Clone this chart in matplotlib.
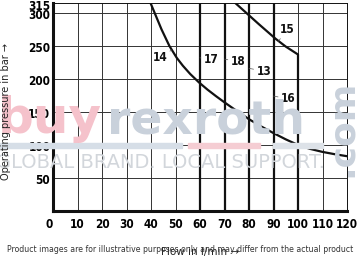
import numpy as np
import matplotlib.pyplot as plt
import matplotlib.transforms as mtransforms
from matplotlib.patches import Rectangle

# curve 14 (flow l/min, pressure bar)
flow_14 = [39.8, 41.6, 44.3, 47.5, 50.5, 53, 56, 59.5, 63, 66.5, 70, 75, 80,
           85, 90, 95, 100, 105, 110, 115, 120]
pres_14 = [315, 299, 275, 250, 232, 220, 207.5, 195, 184, 174, 164.5, 151.5, 139,
           128, 118, 108.5, 100, 94, 89.5, 86, 83]

# curve 15 ends at 100 l/min then drops vertically
flow_15 = [74.4, 79.2, 84, 90.8, 95, 100, 100]
pres_15 = [315, 299, 283, 261, 249, 237, 0]

# vertical limits (curves 17, 18, 13, 16)
vlines = [60, 70, 80, 90]

x_ticks = [0, 10, 20, 30, 40, 50, 60, 70, 80, 90, 100, 110, 120]
y_ticks = [50, 100, 150, 200, 250, 300, 315]

labels = ["14", "17", "18", "13", "15", "16"]
label_xy = [(43.6, 232), (64.5, 229), (75.5, 226), (86, 212), (95.6, 275), (96, 170)]
leader_to = [(48.5, 244), (60, 232), (70, 230), (80, 216), (92, 257), (90, 174)]

tick_kw = dict(fontsize=8.5, fontweight='bold', fontstretch='condensed')

fig = plt.figure(figsize=(3.57, 2.58), dpi=100)
ax = fig.add_axes([53 / 357, 1 - 211 / 258, 294 / 357, 208 / 258])
ax.patch.set_alpha(0)

# faint watermark behind the chart
wm_pink = '#f5c2cb'
wm_gray = '#c9d1db'
fig.text(-0.005, 1 - 133 / 258, "buy", fontsize=36, fontweight='bold',
         color=wm_pink, zorder=0, va='baseline')
fig.text(0.30, 1 - 133 / 258, "rexroth", fontsize=34, fontweight='bold',
         color=wm_gray, zorder=0, va='baseline')
fig.text(0.957, 1 - 128 / 258, ".com", fontsize=26, fontweight='bold',
         color=wm_gray, rotation=90, zorder=0, va='center', ha='center')
fig.text(-0.012, 1 - 163 / 258, "GLOBAL BRAND. LOCAL SUPPORT.", fontsize=14,
         color='#d2d6db', zorder=0, va='center')
fig.patches.append(Rectangle((0, 1 - 148 / 258), 182 / 357, 5 / 258, transform=fig.transFigure,
                             color='#d6dee7', zorder=0))
fig.patches.append(Rectangle((188 / 357, 1 - 148 / 258), 72 / 357, 5 / 258, transform=fig.transFigure,
                             color='#f5cdd3', zorder=0))
fig.patches.append(Rectangle((273 / 357, 1 - 148 / 258), 50 / 357, 5 / 258, transform=fig.transFigure,
                             color='#dde2e8', zorder=0))

# grid
for x in x_ticks[1:]:
    ax.axvline(x, color='#333333', lw=0.7, zorder=1)
for y in [50, 100, 150, 200, 250, 300]:
    ax.axhline(y, color='#333333', lw=0.7, zorder=1)

for x in vlines:
    ax.axvline(x, color='#111111', lw=1.6, zorder=2)

ax.plot(flow_14, pres_14, color='#111111', lw=1.6, zorder=3, solid_joinstyle='round')
ax.plot(flow_15, pres_15, color='#111111', lw=1.6, zorder=3, solid_joinstyle='round')

for lab, (tx, ty), (lx, ly) in zip(labels, label_xy, leader_to):
    ax.annotate(lab, xy=(lx, ly), xytext=(tx, ty), ha='center', va='center',
                color='#111111', arrowprops=dict(arrowstyle='-', color='#555555', lw=0.5,
                                                 shrinkA=4, shrinkB=0), zorder=4, **tick_kw)

ax.set_xlim(0, 120)
ax.set_ylim(0, 315)
ax.set_xticks(x_ticks)
ax.set_yticks(y_ticks)
ax.set_xticklabels([str(v) for v in x_ticks], **tick_kw)
ax.set_yticklabels([str(v) for v in y_ticks], **tick_kw)
ax.tick_params(length=0, pad=5)
ax.tick_params(axis='y', pad=2)
ax.get_xticklabels()[0].set_ha('right')
ylabels = ax.get_yticklabels()
ylabels[-1].set_transform(ylabels[-1].get_transform() +
                          mtransforms.ScaledTranslation(0, -2.5 / 100, fig.dpi_scale_trans))
for lbl in ylabels[:-1]:
    lbl.set_transform(lbl.get_transform() +
                      mtransforms.ScaledTranslation(0, -1.5 / 100, fig.dpi_scale_trans))

ax.spines['left'].set_linewidth(2.2)
ax.spines['bottom'].set_linewidth(2.2)
ax.spines['top'].set_linewidth(0.7)
ax.spines['right'].set_linewidth(0.7)
for s in ax.spines.values():
    s.set_color('#111111')

fig.text(6 / 357, 1 - 111 / 258, "Operating pressure in bar \u2192", rotation=90,
         fontsize=7, ha='center', va='center', color='#222222')
fig.text(200 / 357, 1 - 252 / 258, "Flow in l/min \u2192", fontsize=7.5,
         ha='center', va='center', color='#222222')
fig.text(7 / 357, 1 - 249 / 258,
         "Product images are for illustrative purposes only and may differ from the actual product",
         fontsize=5.6, ha='left', va='center', color='#333333')

fig.savefig("out.png", dpi=100)
